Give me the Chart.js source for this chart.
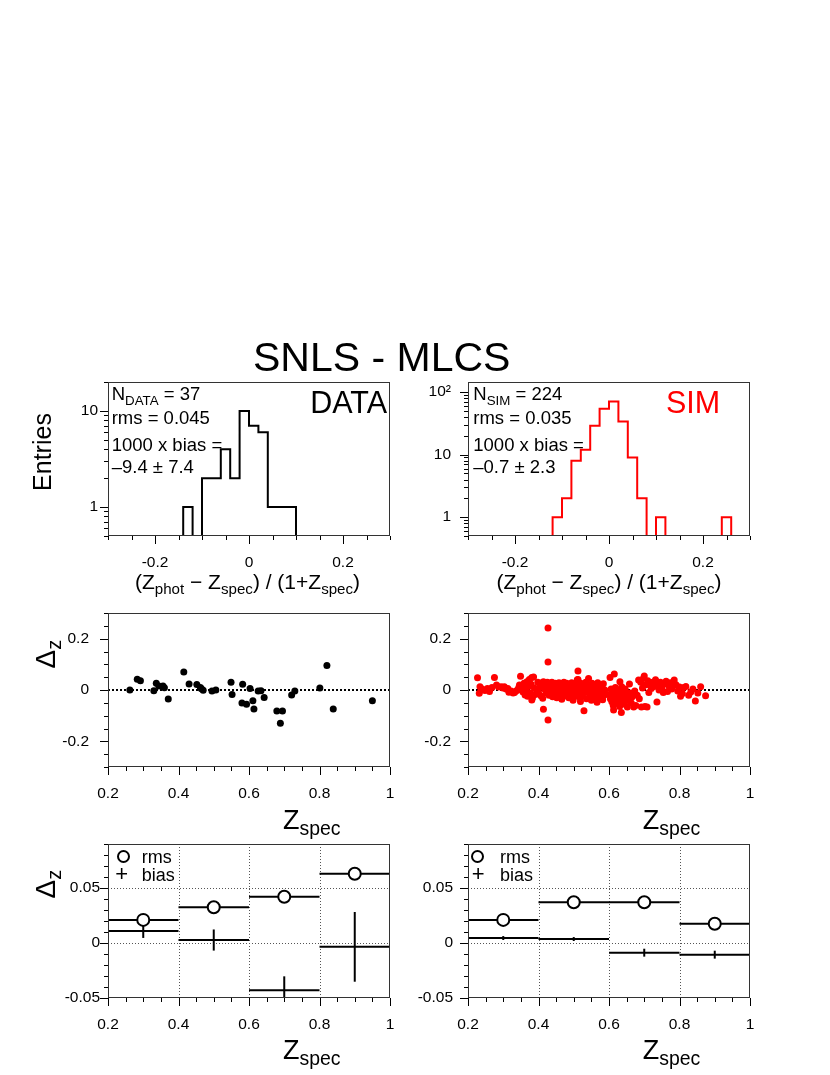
<!DOCTYPE html>
<html>
<head>
<meta charset="utf-8">
<script src="https://cdn.jsdelivr.net/npm/chart.js@4.4.1/dist/chart.umd.min.js"></script>
<style>
  body { margin: 0; background: #fff; width: 830px; height: 1075px; position: relative; overflow: hidden;
         font-family: "Liberation Sans", Arial, Helvetica, sans-serif; }
  canvas { position: absolute; }
  .txt { position: absolute; line-height: 1; white-space: nowrap; color: #000; }
  .txt sub { font-size: 0.72em; vertical-align: baseline; position: relative; top: 0.32em; }
  .leg-circle { position: absolute; width: 9px; height: 9px; border: 2px solid #000; border-radius: 50%; background: #fff; }
</style>
</head>
<body>
<script>
// ---- histogram data: (Zphot - Zspec)/(1+Zspec), 30 bins from -0.3 to 0.3
const histLow = -0.3;
const histHigh = 0.3;
const histWidth = 0.02;
const dataCounts = [0,0,0,0,0,0,0,0,1,0, 2,2,4,2,10,7,6,1,1,1, 0,0,0,0,0,0,0,0,0,0];
const simCounts  = [0,0,0,0,0,0,0,0,0,1, 2,8,12,29,54,71,34,9,2,0, 1,0,0,0,0,0,0,1,0,0];
const dataUnderOver = [0, 1];
const simUnderOver = [1, 1];
const dataLogTicks = [0.5,0.6,0.7,0.8,0.9,1,2,3,4,5,6,7,8,9,10,20];
const simLogTicks = [0.5,0.6,0.7,0.8,0.9,1,2,3,4,5,6,7,8,9,10,20,30,40,50,60,70,80,90,100];

// ---- Delta z vs Zspec, DATA
const dataZspec = [0.262,0.283,0.292,0.330,0.337,0.344,0.356,0.360,0.371,0.415,
                   0.430,0.452,0.462,0.465,0.470,0.495,0.506,0.549,0.552,0.582,
                   0.580,0.593,0.603,0.611,0.614,0.626,0.634,0.643,0.679,0.695,
                   0.689,0.721,0.730,0.801,0.821,0.839,0.950];
const dataDz = [0.000,0.042,0.036,-0.003,0.026,0.016,0.016,0.009,-0.035,0.070,
                0.023,0.021,0.010,0.005,-0.001,-0.004,0.000,0.030,-0.018,0.022,
                -0.051,-0.056,0.006,-0.042,-0.074,-0.004,-0.003,-0.029,-0.082,-0.082,
                -0.130,-0.019,-0.004,0.008,0.095,-0.074,-0.042];

// ---- Delta z vs Zspec, SIM
const simZspec = [
  0.227,0.234,0.232,0.240,0.248,0.255,0.261,0.268,0.275,0.281,0.287,0.294,0.299,0.303,0.308,
  0.313,0.316,0.322,0.328,0.332,0.336,0.341,0.344,0.346,0.349,
  0.352,0.356,0.359,0.362,0.364,0.367,0.369,0.372,0.374,0.377,
  0.379,0.381,0.381,0.383,0.386,0.388,0.391,0.395,0.398,0.400,
  0.404,0.407,0.410,0.412,0.414,0.414,0.417,0.420,0.422,0.425,
  0.427,0.427,0.427,0.428,0.430,0.432,0.434,0.436,0.438,0.440,
  0.442,0.444,0.446,0.448,0.450,0.452,0.454,0.456,0.458,0.460,
  0.462,0.464,0.466,0.468,0.470,0.472,0.474,0.476,0.478,0.480,
  0.482,0.484,0.486,0.488,0.490,0.492,0.494,0.496,0.498,0.500,
  0.502,0.504,0.506,0.508,0.510,0.512,0.512,0.514,0.516,0.518,
  0.519,0.520,0.522,0.524,0.526,0.529,0.530,0.532,0.534,0.536,
  0.538,0.540,0.542,0.544,0.546,0.548,0.550,0.552,0.554,0.556,
  0.558,0.560,0.562,0.564,0.566,0.568,0.570,0.572,0.574,0.576,
  0.578,0.580,0.582,0.584,0.586,0.588,
  0.600,0.603,0.604,0.606,0.608,0.610,0.612,0.613,0.615,0.616,
  0.618,0.620,0.622,0.624,0.626,0.628,0.630,0.631,0.633,0.635,
  0.636,0.638,0.640,0.642,0.644,0.646,0.648,0.650,0.652,0.655,
  0.658,0.660,0.663,0.666,0.670,0.673,0.676,0.680,0.684,0.686,
  0.690,0.692,0.695,0.698,0.700,
  0.702,0.705,0.708,0.710,0.713,0.716,0.720,0.724,0.728,0.732,
  0.736,0.738,0.742,0.746,0.750,0.754,0.758,0.762,0.766,0.770,
  0.774,0.778,0.782,0.785,0.790,0.795,
  0.800,0.803,0.808,0.812,0.818,0.826,0.832,0.838,0.845,0.852,0.860,0.874];
const simDz = [
  0.048,0.013,-0.013,0.004,-0.002,0.006,-0.006,0.010,0.049,0.019,0.012,0.013,0.008,0.013,0.004,
  0.006,-0.009,-0.004,-0.012,-0.010,-0.004,0.000,0.010,0.019,0.054,
  0.006,-0.008,0.026,-0.019,0.004,0.032,-0.024,0.014,0.041,-0.013,
  0.022,0.049,-0.039,-0.030,0.051,0.008,-0.018,0.000,0.030,-0.010,
  0.012,-0.022,0.028,-0.032,0.032,-0.075,0.004,0.021,-0.012,0.030,
  0.242,0.109,-0.117,0.008,-0.020,0.026,0.014,-0.004,0.030,-0.026,
  0.018,0.004,-0.012,0.026,0.010,-0.030,0.020,-0.006,0.028,0.002,
  -0.018,0.024,-0.036,0.012,-0.008,0.030,0.018,-0.022,0.004,0.026,
  -0.012,0.010,-0.030,0.020,0.000,-0.016,0.028,0.008,-0.040,0.016,
  -0.006,0.022,-0.024,0.004,0.040,0.074,0.041,-0.014,0.012,-0.030,
  -0.045,0.026,0.000,-0.020,0.016,-0.081,0.006,-0.010,0.030,-0.034,
  0.010,-0.004,0.045,0.018,-0.022,0.004,-0.040,0.026,-0.012,0.008,
  -0.028,0.020,-0.006,0.014,-0.048,0.028,-0.016,0.002,-0.030,0.018,
  -0.008,0.010,-0.038,0.024,-0.020,0.000,
  -0.018,0.049,-0.034,0.004,-0.046,-0.010,-0.060,-0.078,0.062,-0.024,
  0.010,-0.040,-0.016,-0.052,0.000,-0.030,-0.064,0.032,-0.020,-0.088,
  0.013,-0.044,-0.008,-0.028,-0.056,0.004,-0.036,-0.018,-0.066,-0.040,
  0.023,-0.012,-0.050,-0.026,-0.066,-0.004,-0.060,-0.020,0.039,-0.034,
  0.030,-0.066,0.008,0.046,0.055,
  -0.064,0.020,-0.066,0.036,-0.010,0.024,0.006,0.030,0.014,0.040,
  -0.047,0.018,0.000,0.030,0.010,-0.010,0.024,0.034,-0.006,0.016,
  0.028,0.004,0.018,0.039,0.020,-0.004,
  0.012,-0.024,-0.014,0.010,0.014,-0.020,-0.008,0.004,-0.043,-0.012,0.013,-0.022];

// ---- rms and bias in Zspec bins
const binZ = [0.3, 0.5, 0.7, 0.9];
const binHalf = 0.1;
const dataRms = [0.021, 0.0325, 0.042, 0.063];
const dataBias = [0.011, 0.0027, -0.043, -0.0035];
const dataBiasErr = [0.0064, 0.0096, 0.0127, 0.0317];
const simRms = [0.021, 0.037, 0.037, 0.0175];
const simBias = [0.0045, 0.0036, -0.0088, -0.0106];
const simBiasErr = [0.0018, 0.0018, 0.0036, 0.0036];
const binGridZ = [0.4, 0.6, 0.8];
const binGridDz = [0, 0.05];

// layout of the six frames
const FRAME_LEFT = [108, 468];
const FRAME_TOP = [382, 613, 844];
const FRAME_W = 282, FRAME_H = 154;
const PAD_L = 75, PAD_T = 35, PAD_R = 35, PAD_B = 45;
const RED = '#ff0000';

Chart.defaults.font.family = '"Liberation Sans", Arial, Helvetica, sans-serif';
Chart.defaults.font.size = 15.5;
Chart.defaults.color = '#000';
Chart.defaults.animation = false;

// ROOT-like frame: box, outside ticks (long on labelled values), dotted grid lines
const rootFrame = {
  id: 'rootFrame',
  beforeDatasetsDraw(chart, args, o) {
    const {ctx, chartArea: a, scales: {x, y}} = chart;
    ctx.save();
    ctx.strokeStyle = '#555';
    ctx.lineWidth = 1;
    ctx.setLineDash([1, 2]);
    (o.gridX || []).forEach(v => {
      const p = Math.round(x.getPixelForValue(v)) + 0.5;
      ctx.beginPath(); ctx.moveTo(p, a.top); ctx.lineTo(p, a.bottom); ctx.stroke();
    });
    (o.gridY || []).forEach(v => {
      const p = Math.round(y.getPixelForValue(v)) + 0.5;
      ctx.beginPath(); ctx.moveTo(a.left, p); ctx.lineTo(a.right, p); ctx.stroke();
    });
    if (o.zeroLine) {
      ctx.strokeStyle = '#000';
      ctx.lineWidth = 2;
      ctx.setLineDash([2, 2]);
      const p = Math.round(y.getPixelForValue(0));
      ctx.beginPath(); ctx.moveTo(a.left, p); ctx.lineTo(a.right, p); ctx.stroke();
    }
    ctx.restore();
  },
  afterDatasetsDraw(chart) {
    const {ctx, chartArea: a, scales: {x, y}} = chart;
    ctx.save();
    ctx.strokeStyle = '#333';
    ctx.lineWidth = 1;
    ctx.strokeRect(a.left + 0.5, a.top + 0.5, a.right - a.left - 1, a.bottom - a.top - 1);
    ctx.strokeStyle = '#000';
    x.ticks.forEach(t => {
      const p = Math.round(x.getPixelForValue(t.value)) + 0.5;
      const len = t.label !== '' ? 8 : 4;
      ctx.beginPath(); ctx.moveTo(p, a.bottom); ctx.lineTo(p, a.bottom + len); ctx.stroke();
    });
    y.ticks.forEach(t => {
      const p = Math.round(y.getPixelForValue(t.value)) + 0.5;
      const len = t.label !== '' ? 8 : 4;
      ctx.beginPath(); ctx.moveTo(a.left, p); ctx.lineTo(a.left - len, p); ctx.stroke();
    });
    ctx.restore();
  }
};

function isMultiple(v, every) {
  return Math.abs(v / every - Math.round(v / every)) < 1e-6;
}
function fmt(v) {
  const n = Number(v.toFixed(3));
  return n === 0 ? '0' : String(n);
}

function linAxis(min, max, step, every, pad) {
  return {
    type: 'linear', min: min, max: max,
    grid: { display: true, drawOnChartArea: false, drawTicks: false },
    border: { display: false },
    ticks: { stepSize: step, autoSkip: false, maxRotation: 0, padding: pad,
             callback: v => isMultiple(v, every) ? fmt(v) : '' }
  };
}
function logAxis(min, max, tickList, pad) {
  return {
    type: 'logarithmic', min: min, max: max,
    grid: { display: true, drawOnChartArea: false, drawTicks: false },
    border: { display: false },
    afterBuildTicks: s => { s.ticks = tickList.map(v => ({ value: v })); },
    ticks: { autoSkip: false, padding: pad,
             callback: v => v === 1 ? '1' : v === 10 ? '10' : v === 100 ? '10\u00b2' : '' }
  };
}

function histPoints(counts, underOver, floor) {
  const pts = [{ x: histLow, y: Math.max(underOver[0], floor) }];
  counts.forEach((c, i) => {
    const lo = histLow + i * histWidth;
    const v = Math.max(c, floor);
    pts.push({ x: lo, y: v }, { x: lo + histWidth, y: v });
  });
  pts.push({ x: histHigh, y: Math.max(underOver[1], floor) });
  return pts;
}

function seg(x1, y1, x2, y2) {
  return { type: 'line', data: [{ x: x1, y: y1 }, { x: x2, y: y2 }], borderColor: '#000',
           borderWidth: 2, pointRadius: 0, fill: false, order: 1 };
}
function binSets(rms, bias, err) {
  const sets = [{
    type: 'scatter', data: binZ.map((z, i) => ({ x: z, y: rms[i] })), order: 0,
    pointRadius: 6, pointBackgroundColor: '#fff', pointBorderColor: '#000', pointBorderWidth: 2
  }];
  binZ.forEach((z, i) => {
    sets.push(seg(z - binHalf, rms[i], z + binHalf, rms[i]));
    sets.push(seg(z - binHalf, bias[i], z + binHalf, bias[i]));
    sets.push(seg(z, bias[i] - err[i], z, bias[i] + err[i]));
  });
  return sets;
}

function makePanel(col, row, datasets, xAxis, yAxis, frameOpts) {
  const c = document.createElement('canvas');
  c.width = PAD_L + FRAME_W + PAD_R;
  c.height = PAD_T + FRAME_H + PAD_B;
  c.style.left = (FRAME_LEFT[col] - PAD_L) + 'px';
  c.style.top = (FRAME_TOP[row] - PAD_T) + 'px';
  document.body.appendChild(c);
  xAxis.afterFit = s => { s.height = PAD_B; };
  yAxis.afterFit = s => { s.width = PAD_L; };
  return new Chart(c, {
    type: 'scatter',
    data: { datasets: datasets },
    options: {
      responsive: false,
      events: [],
      layout: { padding: { left: 0, top: PAD_T, right: PAD_R, bottom: 0 } },
      scales: { x: xAxis, y: yAxis },
      plugins: { legend: { display: false }, tooltip: { enabled: false }, rootFrame: frameOpts || {} }
    },
    plugins: [rootFrame]
  });
}

function histSet(counts, underOver, color) {
  return { type: 'line', data: histPoints(counts, underOver, 0.5), borderColor: color,
           borderWidth: 2, pointRadius: 0, fill: false, tension: 0 };
}
function scatterSet(xs, ys, color) {
  return { type: 'scatter', data: xs.map((v, i) => ({ x: v, y: ys[i] })), pointRadius: 3.5,
           pointBackgroundColor: color, pointBorderWidth: 0 };
}

// row 1: histograms
makePanel(0, 0, [histSet(dataCounts, dataUnderOver, '#000')],
  linAxis(-0.3, 0.3, 0.05, 0.2, 17), logAxis(0.5, 20, dataLogTicks, 10));
makePanel(1, 0, [histSet(simCounts, simUnderOver, RED)],
  linAxis(-0.3, 0.3, 0.05, 0.2, 17), logAxis(0.5, 145, simLogTicks, 17));

// row 2: Delta z vs Zspec
makePanel(0, 1, [scatterSet(dataZspec, dataDz, '#000')],
  linAxis(0.2, 1, 0.05, 0.2, 17), linAxis(-0.3, 0.3, 0.05, 0.2, 19), { zeroLine: true });
makePanel(1, 1, [scatterSet(simZspec, simDz, RED)],
  linAxis(0.2, 1, 0.05, 0.2, 17), linAxis(-0.3, 0.3, 0.05, 0.2, 17), { zeroLine: true });

// row 3: rms and bias per bin
makePanel(0, 2, binSets(dataRms, dataBias, dataBiasErr),
  linAxis(0.2, 1, 0.05, 0.2, 17), linAxis(-0.05, 0.09, 0.01, 0.05, 8), { gridX: binGridZ, gridY: binGridDz });
makePanel(1, 2, binSets(simRms, simBias, simBiasErr),
  linAxis(0.2, 1, 0.05, 0.2, 17), linAxis(-0.05, 0.09, 0.01, 0.05, 15), { gridX: binGridZ, gridY: binGridDz });

// ---- text
function putText(html, x, baseline, size, extra) {
  const d = document.createElement('div');
  d.className = 'txt';
  d.innerHTML = html;
  d.style.fontSize = size + 'px';
  d.style.left = x + 'px';
  d.style.top = (baseline - 0.8465 * size) + 'px';
  Object.assign(d.style, extra || {});
  document.body.appendChild(d);
  return d;
}
function putRotated(html, cx, cy, size) {
  const d = document.createElement('div');
  d.className = 'txt';
  d.innerHTML = html;
  d.style.fontSize = size + 'px';
  d.style.left = cx + 'px';
  d.style.top = cy + 'px';
  d.style.transform = 'translate(-50%, -50%) rotate(-90deg)';
  document.body.appendChild(d);
}

putText('SNLS - MLCS', 253, 372, 41);
putRotated('Entries', 41.7, 452, 25);
putRotated('\u0394<sub>z</sub>', 45.5, 654, 28);
putRotated('\u0394<sub>z</sub>', 45.5, 884, 28);

const statSize = 18.5;
putText('N<sub>DATA</sub> = 37', 111.7, 401, statSize);
putText('rms = 0.045', 111.7, 424.3, statSize);
putText('1000 x bias =', 111.7, 451.7, statSize);
putText('\u20139.4 \u00b1 7.4', 111.7, 474, statSize);
putText('N<sub>SIM</sub> = 224', 473.3, 401, statSize);
putText('rms = 0.035', 473.3, 424.3, statSize);
putText('1000 x bias =', 473.3, 451.7, statSize);
putText('\u20130.7 \u00b1 2.3', 473.3, 474, statSize);

putText('DATA', 387, 413, 30.5, { transform: 'translateX(-100%)' });
putText('SIM', 666, 413, 30.5, { color: RED });

const xTitleHist = '(Z<sub>phot</sub> \u2212 Z<sub>spec</sub>) / (1+Z<sub>spec</sub>)';
putText(xTitleHist, 247.5, 589, 21, { transform: 'translateX(-50%)' });
putText(xTitleHist, 609, 589, 21, { transform: 'translateX(-50%)' });
putText('Z<sub>spec</sub>', 283, 830, 27);
putText('Z<sub>spec</sub>', 642.7, 830, 27);
putText('Z<sub>spec</sub>', 283, 1060, 27);
putText('Z<sub>spec</sub>', 642.7, 1060, 27);

// legends of the bottom row
function putLegend(circleX, plusX, textX) {
  const c = document.createElement('div');
  c.className = 'leg-circle';
  c.style.left = (circleX - 6.5) + 'px';
  c.style.top = (856.7 - 6.5) + 'px';
  document.body.appendChild(c);
  putText('+', plusX, 882, 22, { transform: 'translateX(-50%)' });
  putText('rms', textX, 863.3, 18);
  putText('bias', textX, 881.7, 18);
}
putLegend(123.3, 121.7, 141.7);
putLegend(477.3, 478.3, 500);
</script>
</body>
</html>
